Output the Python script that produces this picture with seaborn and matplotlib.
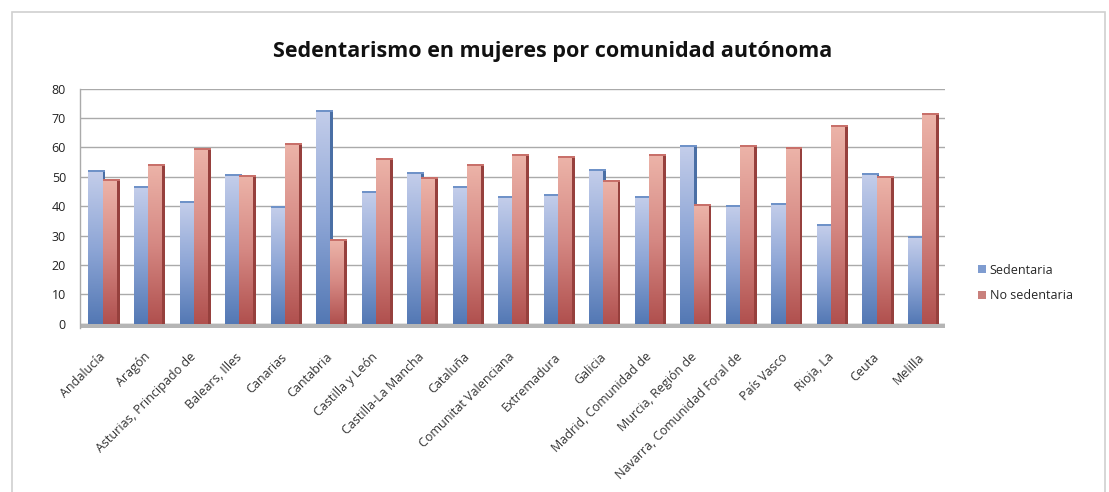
import numpy as np
import pandas as pd
import matplotlib
matplotlib.use("Agg")
import matplotlib.pyplot as plt
import matplotlib.patches as mpatches
import matplotlib.transforms as mtransforms
from matplotlib.colors import LinearSegmentedColormap
import seaborn as sns

comunidades = [
    "Andalucía", "Aragón", "Asturias, Principado de", "Balears, Illes", "Canarias",
    "Cantabria", "Castilla y León", "Castilla-La Mancha", "Cataluña",
    "Comunitat Valenciana", "Extremadura", "Galicia", "Madrid, Comunidad de",
    "Murcia, Región de", "Navarra, Comunidad Foral de", "País Vasco", "Rioja, La",
    "Ceuta", "Melilla",
]
sedentaria = [51.6, 46.2, 41.0, 50.2, 39.3, 72.0, 44.4, 50.8, 46.2, 42.8,
              43.6, 51.8, 42.9, 60.0, 39.8, 40.5, 33.2, 50.5, 29.0]
no_sedentaria = [48.4, 53.8, 59.0, 49.8, 60.7, 28.0, 55.6, 49.2, 53.8, 57.2,
                 56.4, 48.2, 57.1, 40.0, 60.2, 59.5, 66.8, 49.5, 71.0]
series = ["Sedentaria", "No sedentaria"]
yticks = [0, 10, 20, 30, 40, 50, 60, 70, 80]

df = pd.DataFrame({
    "comunidad": comunidades * 2,
    "serie": [series[0]] * len(comunidades) + [series[1]] * len(comunidades),
    "valor": sedentaria + no_sedentaria,
})

sns.set_theme(style="white")
plt.rcParams["font.family"] = ["Open Sans", "DejaVu Sans"]

fig = plt.figure(figsize=(11.09, 4.92), dpi=100)
ax = fig.add_axes([0.072, 0.333, 0.78, 0.487])

base_colors = {"Sedentaria": "#7F9CD0", "No sedentaria": "#CB7A78"}
sns.barplot(data=df, x="comunidad", y="valor", hue="serie", order=comunidades,
            hue_order=series, palette=base_colors, width=0.62, gap=0.0,
            saturation=1, ax=ax, legend=False)

# vertical gradient + darker side and top faces on each bar
ramps = {
    0: LinearSegmentedColormap.from_list("b", ["#5378B4", "#8EA6D6", "#C3CDEA"]),
    1: LinearSegmentedColormap.from_list("r", ["#B0504E", "#D58883", "#ECB3A8"]),
}
sides = {0: "#4A6FA5", 1: "#96403D"}
tops = {0: "#6F92C8", 1: "#C8706A"}
grad = np.linspace(0, 1, 256).reshape(-1, 1)
n = len(comunidades)
for i, bar in enumerate(ax.patches[: 2 * n]):
    k = i // n
    x0, w, h = bar.get_x(), bar.get_width(), bar.get_height()
    bar.set_facecolor("none")
    bar.set_edgecolor("none")
    im = ax.imshow(grad, cmap=ramps[k], aspect="auto", origin="lower",
                   extent=[x0, x0 + w, 0, h], zorder=2)
    im.set_clip_path(bar)
    ax.add_patch(mpatches.Rectangle((x0 + w, 0), w * 0.2, h, facecolor=sides[k],
                                    edgecolor="none", zorder=2))
    ax.add_patch(mpatches.Rectangle((x0, h), w * 1.2, 0.7, facecolor=tops[k],
                                    edgecolor="none", zorder=2))

ax.set_xlim(-0.5, n - 0.5)
ax.set_ylim(-1.5, 80)
ax.set_yticks(yticks)
ax.set_yticklabels([str(t) for t in yticks], fontsize=9, color="#222222")
ax.yaxis.grid(True, color="#AAAAAA", linewidth=1.0)
ax.set_axisbelow(True)
ax.axhspan(-1.5, 0, color="#B5B5B5", zorder=1)
ax.set_xlabel("")
ax.set_ylabel("")
ax.tick_params(axis="y", length=0, pad=10)
ax.tick_params(axis="x", length=0, pad=16)
ax.set_xticks(range(n))
ax.set_xticklabels(comunidades, rotation=45, ha="right", rotation_mode="anchor",
                   fontsize=9.0, color="#333333")
shift = mtransforms.ScaledTranslation(-3 / 72, 0, fig.dpi_scale_trans)
for lab in ax.get_xticklabels():
    lab.set_transform(lab.get_transform() + shift)
for s in ["top", "right", "bottom"]:
    ax.spines[s].set_visible(False)
ax.spines["left"].set_color("#AAAAAA")
ax.spines["left"].set_linewidth(1.0)

fig.text(0.498, 0.895, "Sedentarismo en mujeres por comunidad autónoma",
         ha="center", va="center", fontsize=15.5, fontweight="bold", color="#111111")

handles = [mpatches.Patch(facecolor=c, edgecolor="none") for c in ["#7F9CD0", "#C9807C"]]
fig.legend(handles, series, loc="center left", bbox_to_anchor=(0.872, 0.425),
           frameon=False, fontsize=9, handlelength=0.6, handleheight=0.6,
           handletextpad=0.3, labelspacing=1.0)

fig.add_artist(mpatches.Rectangle((0.011, -0.01), 0.985, 0.985, transform=fig.transFigure,
                                  fill=False, edgecolor="#D0D0D0", linewidth=1.2))

fig.savefig("out.png", dpi=100, facecolor="white")
